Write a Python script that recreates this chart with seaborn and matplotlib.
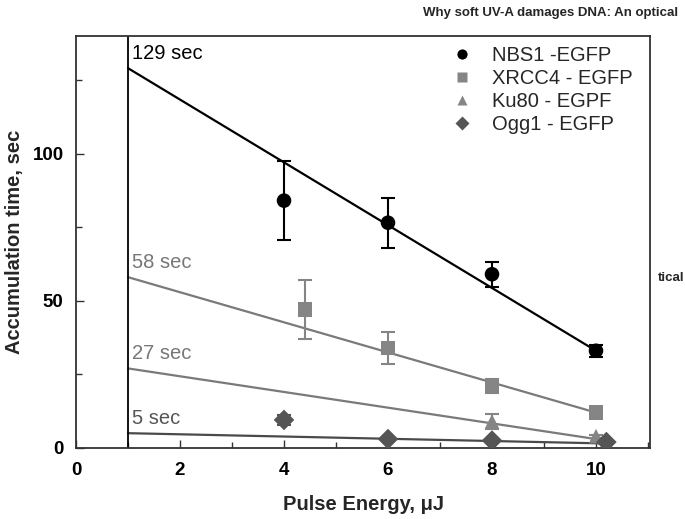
import matplotlib
matplotlib.use("Agg")
import matplotlib.pyplot as plt
import seaborn as sns
import pandas as pd
from matplotlib.ticker import MultipleLocator

sns.set_style("white")
plt.rcParams['font.family'] = ['Liberation Sans', 'DejaVu Sans']

series = ["NBS1 -EGFP", "XRCC4 - EGFP", "Ku80 - EGPF", "Ogg1 - EGFP"]

nbs1_x = [4, 6, 8, 10]
nbs1_y = [84, 76.5, 59, 33]
nbs1_err = [13.5, 8.5, 4.3, 2]

xrcc4_x = [4.4, 6, 8, 10]
xrcc4_y = [47, 34, 21, 12]
xrcc4_err = [10, 5.5, 2.5, 0.8]

ku80_x = [8, 10]
ku80_y = [9, 4]
ku80_err = [2.5, 0.5]

ogg1_x = [4, 6, 8, 10.2]
ogg1_y = [9.5, 3, 2.5, 2]
ogg1_err = [1.8, 0.3, 0.3, 0.3]

fit_x = {"NBS1 -EGFP": [1, 10], "XRCC4 - EGFP": [1, 10],
         "Ku80 - EGPF": [1, 10], "Ogg1 - EGFP": [1, 10.2]}
fit_y = {"NBS1 -EGFP": [129, 33], "XRCC4 - EGFP": [58, 12],
         "Ku80 - EGPF": [27, 3], "Ogg1 - EGFP": [5, 1.5]}
fit_labels = ["129 sec", "58 sec", "27 sec", "5 sec"]

colors = {"NBS1 -EGFP": "#000000", "XRCC4 - EGFP": "#858585",
          "Ku80 - EGPF": "#858585", "Ogg1 - EGFP": "#555555"}
line_colors = {"NBS1 -EGFP": "#000000", "XRCC4 - EGFP": "#7a7a7a",
               "Ku80 - EGPF": "#7a7a7a", "Ogg1 - EGFP": "#4a4a4a"}
markers = {"NBS1 -EGFP": "o", "XRCC4 - EGFP": "s",
           "Ku80 - EGPF": "^", "Ogg1 - EGFP": "D"}
label_colors = ["#000000", "#777777", "#777777", "#555555"]

pts = pd.DataFrame({
    "x": nbs1_x + xrcc4_x + ku80_x + ogg1_x,
    "y": nbs1_y + xrcc4_y + ku80_y + ogg1_y,
    "err": nbs1_err + xrcc4_err + ku80_err + ogg1_err,
    "series": [series[0]] * 4 + [series[1]] * 4 + [series[2]] * 2 + [series[3]] * 4,
})
fits = pd.DataFrame({
    "x": sum([fit_x[s] for s in series], []),
    "y": sum([fit_y[s] for s in series], []),
    "series": sum([[s, s] for s in series], []),
})

fig = plt.figure(figsize=(6.85, 5.19), dpi=100)
ax = fig.add_axes([0.111, 0.137, 0.838, 0.794])

sns.lineplot(data=fits, x="x", y="y", hue="series", palette=line_colors,
             hue_order=series, legend=False, ax=ax, linewidth=1.6)

for s in series:
    d = pts[pts.series == s]
    ax.errorbar(d.x, d.y, yerr=d.err, fmt="none", ecolor=colors[s],
                elinewidth=1.5, capsize=5, capthick=1.5, zorder=3)

sns.scatterplot(data=pts, x="x", y="y", hue="series", style="series",
                palette=colors, markers=markers, hue_order=series,
                style_order=series, s=110, edgecolor="none", ax=ax, zorder=4)

for s, lab, c in zip(series, fit_labels, label_colors):
    ax.text(fit_x[s][0] + 0.08, fit_y[s][0] + 1.8, lab, color=c, fontsize=14.5,
            ha="left", va="bottom")

ax.axvline(1, color="black", linewidth=1.3, ymin=0, ymax=1)

ax.set_xlim(0, 11.04)
ax.set_ylim(0, 140)
ax.xaxis.set_major_locator(MultipleLocator(2))
ax.xaxis.set_minor_locator(MultipleLocator(1))
ax.yaxis.set_major_locator(MultipleLocator(50))
ax.yaxis.set_minor_locator(MultipleLocator(25))
ax.tick_params(which="both", direction="in", top=False, right=False,
               bottom=True, left=True, width=1, colors="#333333")
ax.tick_params(which="major", length=6)
ax.tick_params(which="minor", length=4)
ax.tick_params(axis="x", pad=10)
ax.tick_params(axis="y", pad=9)
for lab in ax.get_xticklabels() + ax.get_yticklabels():
    lab.set_fontweight("bold")
    lab.set_fontsize(13.5)
    lab.set_color("black")
for sp in ax.spines.values():
    sp.set_color("#333333")
    sp.set_linewidth(1.3)

ax.set_xlabel("Pulse Energy, \u03bcJ", fontsize=14.5, fontweight="bold", labelpad=12)
ax.set_ylabel("Accumulation time, sec", fontsize=14.5, fontweight="bold", labelpad=6)

leg = ax.legend(loc="upper right", frameon=False, fontsize=14.5,
                bbox_to_anchor=(0.995, 1.01), handletextpad=0.5,
                labelspacing=0.2, borderaxespad=0.3, markerscale=0.7)

fig.text(0.99, 0.975, "Why soft UV-A damages DNA: An optical", ha="right",
         va="center", fontsize=9.5, fontweight="bold")
fig.text(0.96, 0.465, "tical", ha="left", va="center", fontsize=9.5,
         fontweight="bold")

fig.savefig("out.png", dpi=100)
